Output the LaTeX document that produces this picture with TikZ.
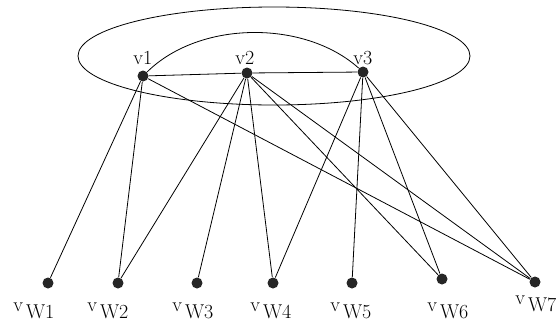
\documentclass[tikz,border=0pt]{standalone}
\tikzset{
	vertex/.style={circle,fill=black!85,inner sep=0pt,minimum size=11pt},
	lbl/.style={inner sep=0pt,anchor=base west,font=\fontsize{20}{24}\selectfont},
}
\newcommand{\vwlab}[1]{\raisebox{7pt}{v}\kern3pt W#1}

\begin{document}
\begin{tikzpicture}[x=1pt,y=-1pt,line width=0.8pt]
		\useasboundingbox (0,0) rectangle (557,322);
		\draw (274,56) ellipse [x radius=196pt, y radius=49pt];

		\node[vertex] at (143,76)(v1){};
		\node[vertex] at (247,73)(v2){};
		\node[vertex] at (363,72)(v3){};
		\node[lbl] at (133,64)(l1){v1};
		\node[lbl] at (235,64)(l2){v2};
		\node[lbl] at (353,64)(l3){v3};
		\draw (v1) .. controls (200,20) and (305,20) .. (v3);

		\node[vertex] at (48,283)(w1){};
		\node[vertex] at (118,283)(w2){};
		\node[vertex] at (197,283)(w3){};
		\node[vertex] at (273,283)(w4){};
		\node[vertex] at (352,283)(w5){};
		\node[vertex] at (442,279)(w6){};
		\node[vertex] at (535,282)(w7){};
		\node[lbl] at (13,318)(m1){\vwlab{1}};
		\node[lbl] at (87,318)(m2){\vwlab{2}};
		\node[lbl] at (172,318)(m3){\vwlab{3}};
		\node[lbl] at (250,318)(m4){\vwlab{4}};
		\node[lbl] at (330,318)(m5){\vwlab{5}};
		\node[lbl] at (427,318)(m6){\vwlab{6}};
		\node[lbl] at (515,311)(m7){\vwlab{7}};

		\path (v1) edge (v2)(v2) edge (v3);
		\path (v1) edge (w1)(v1) edge (w2)(v1) edge (w7);
		\path (v2) edge (w2)(v2) edge (w3)(v2) edge (w4)(v2) edge (w6)(v2) edge (w7);
		\path (v3) edge (w4)(v3) edge (w5)(v3) edge (w6)(v3) edge (w7);
\end{tikzpicture}
\end{document}
